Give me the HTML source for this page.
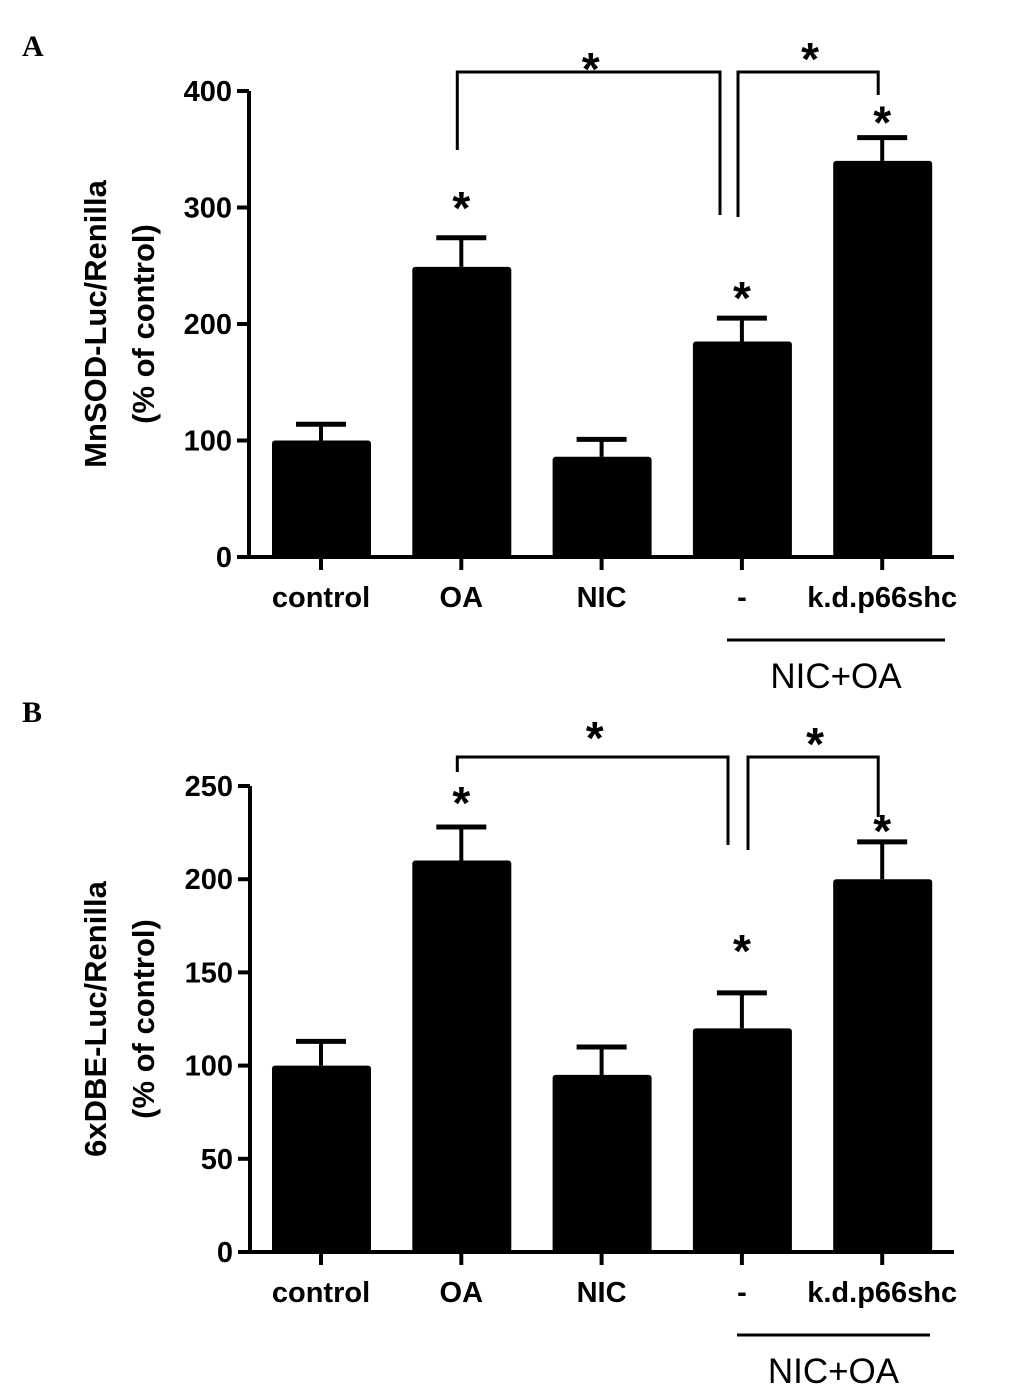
<!DOCTYPE html>
<html><head><meta charset="utf-8"><style>
body{margin:0;background:#fff}
svg text{font-family:"Liberation Sans",Arial,sans-serif}
</style></head><body>
<svg id="chart" width="1033" height="1392" viewBox="0 0 1033 1392" xmlns="http://www.w3.org/2000/svg">
<text x="22" y="56" font-weight="bold" font-size="30" style="font-family:'Liberation Serif',serif">A</text>
<text x="22" y="722" font-weight="bold" font-size="30" style="font-family:'Liberation Serif',serif">B</text>
</svg>
<script>
const categories=["control","OA","NIC","-","k.d.p66shc"];
const valuesA=[100,249,86,185,340];
const errorsA=[14,25,15,20,20];
const ticksA=[0,100,200,300,400];
const valuesB=[100,210,95,120,200];
const errorsB=[13,18,15,19,20];
const ticksB=[0,50,100,150,200,250];
const titleA=["MnSOD-Luc/Renilla","(% of control)"];
const titleB=["6xDBE-Luc/Renilla","(% of control)"];
const svg=document.getElementById('chart');
const NS="http://www.w3.org/2000/svg";
function mk(tag,attrs,parent){const e=document.createElementNS(NS,tag);for(const k in attrs)e.setAttribute(k,attrs[k]);(parent||svg).appendChild(e);return e;}
function panel(cfg){
  const g=mk('g',{});
  
  
  const ax=cfg.ax,y0=cfg.y0,y1=cfg.y1,max=cfg.ticks[cfg.ticks.length-1];
  const y=v=>y0-(v/max)*(y0-y1);
  const x=i=>321+i*140.3;
  const ya=mk('line',{x1:ax,y1:y1,x2:ax,y2:y0+1,stroke:'#000','stroke-width':4},g);
  
  
  const xa=mk('line',{x1:ax-2,y1:y0,x2:954,y2:y0,stroke:'#000','stroke-width':4},g);
  
  
  cfg.ticks.forEach(t=>{
    mk('line',{x1:ax-12,y1:y(t),x2:ax,y2:y(t),stroke:'#000','stroke-width':4},g);
    const tl=mk('text',{x:ax-17,y:y(t)+10,'text-anchor':'end','font-size':29,'font-weight':'bold'},g);
    tl.textContent=t;
    
    
  });
  categories.forEach((c,i)=>{
    const v=cfg.values[i],e=cfg.errors[i],cx=x(i);
    mk('line',{x1:cx,y1:y(v),x2:cx,y2:y(v+e),stroke:'#000','stroke-width':4},g);
    mk('line',{x1:cx-25,y1:y(v+e),x2:cx+25,y2:y(v+e),stroke:'#000','stroke-width':5},g);
    const b=mk('rect',{x:cx-49,y:y(v),width:99,height:y0-y(v),fill:'#000',rx:3},g);
    
    
    mk('line',{x1:cx,y1:y0,x2:cx,y2:y0+13,stroke:'#000','stroke-width':4},g);
    const l=mk('text',{x:cx,y:y0+50,'text-anchor':'middle','font-size':29,'font-weight':'bold'},g);
    l.textContent=c;
    
    
  });
  cfg.title.forEach((t,k)=>{
    const tt=mk('text',{x:0,y:0,'text-anchor':'middle','font-size':31,'font-weight':'bold',transform:`translate(${106+k*48},${(y0+y1)/2}) rotate(-90)`},g);
    tt.textContent=t;
    
    
  });
  const gl=mk('line',{x1:cfg.gx1,y1:y0+83,x2:cfg.gx2,y2:y0+83,stroke:'#000','stroke-width':3},g);
  
  
  const gt=mk('text',{x:(cfg.gx1+cfg.gx2)/2,y:y0+131,'text-anchor':'middle','font-size':35},g);
  gt.textContent='NIC+OA';
  
  
  const br=cfg.br;
  mk('polyline',{points:`${x(1)-4},${br.l1} ${x(1)-4},${br.top} ${br.m1},${br.top} ${br.m1},${br.l2}`,fill:'none',stroke:'#000','stroke-width':3},g);
  mk('polyline',{points:`${br.m2},${br.l3} ${br.m2},${br.top} ${x(4)-4},${br.top} ${x(4)-4},${br.l4}`,fill:'none',stroke:'#000','stroke-width':3},g);
  const stars=[[(x(1)+br.m1)/2, br.top-cfg.bo[0]],[(br.m2+x(4))/2,br.top-cfg.bo[1]],[x(1),y(cfg.values[1]+cfg.errors[1])-cfg.so[0]],[x(3),y(cfg.values[3]+cfg.errors[3])-cfg.so[1]],[x(4),y(cfg.values[4]+cfg.errors[4])-cfg.so[2]]];
  stars.forEach(s=>{
    const st=mk('text',{x:s[0],y:s[1]+27,'text-anchor':'middle','font-size':46,'font-weight':'bold'},g);
    st.textContent='*';
    
    
  });
}
panel({name:'panel-a',ax:249,y0:557,y1:91,ticks:ticksA,values:valuesA,errors:errorsA,title:titleA,gx1:727,gx2:945,
  br:{top:72,l1:150,m1:720,l2:215,m2:738,l3:217,l4:95},bo:[14,24],so:[41,31,26]});
panel({name:'panel-b',ax:250,y0:1252,y1:786,ticks:ticksB,values:valuesB,errors:errorsB,title:titleB,gx1:737,gx2:930,
  br:{top:757,l1:772,m1:728,l2:845,m2:748,l3:850,l4:817},bo:[30,24],so:[35,53,22]});
</script>
</body></html>
